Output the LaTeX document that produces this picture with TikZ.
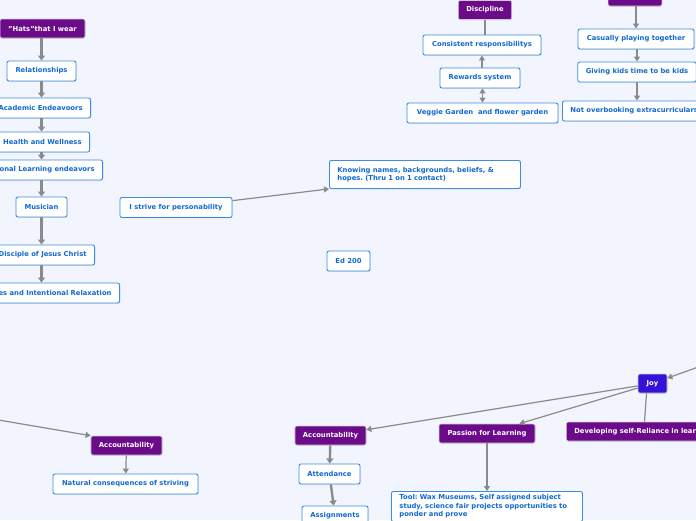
\documentclass[tikz,border=0pt]{standalone}
\usepackage{fontspec}
\setmainfont{DejaVu Sans}
\usepackage{xcolor}
\usepackage{tikz}
\usetikzlibrary{arrows.meta, shadows}
\frenchspacing

\definecolor{mapbg}{HTML}{F2F5FE}
\definecolor{topicpurple}{HTML}{6C0B8A}
\definecolor{joyblue}{HTML}{3512D8}
\definecolor{boxline}{HTML}{3B8CE4}
\definecolor{boxtext}{HTML}{1169D2}
\definecolor{linkgray}{HTML}{8A8A8A}

\begin{document}
\begin{tikzpicture}[
    x=1pt, y=-1pt,
    topic/.style={rectangle, rounded corners=2pt, fill=topicpurple, draw=white!80!black, line width=0.6pt, text=white, minimum height=19pt, inner xsep=8pt, font=\fontsize{6.8}{8.5}\selectfont\bfseries, drop shadow={opacity=0.2, shadow xshift=0.5pt, shadow yshift=-0.8pt}},
    idea/.style={rectangle, rounded corners=2pt, fill=white, draw=boxline, line width=0.9pt, text=boxtext, minimum height=20pt, inner xsep=8pt, font=\fontsize{6.8}{8.5}\selectfont\bfseries, drop shadow={opacity=0.2, shadow xshift=0.5pt, shadow yshift=-0.8pt}},
    link/.style={draw=linkgray, line width=1.2pt, -{Triangle[length=5pt, width=6pt]}},
    plainlink/.style={draw=linkgray, line width=1.2pt},
    spine/.style={draw=linkgray, line width=2.4pt, -{Triangle[length=5pt, width=7pt]}}
]
    \useasboundingbox (0,0) rectangle (696,520);
    \clip (0,0) rectangle (696,520);
    \fill[mapbg] (0,0) rectangle (696,520);

    % Left column: hats
    \coordinate (col) at (41.5,0);
    \node[topic, minimum width=85pt] (hats) at (42.5,28.5) {"Hats"that I wear};
    \node[idea, minimum width=69pt] (rel) at (41.5,71) {Relationships};
    \node[idea, anchor=east] (acad) at (91,108) {Academic Endeavoors};
    \node[idea, anchor=east] (health) at (90,142) {Health and Wellness};
    \node[idea, anchor=east] (proflearn) at (103,170) {Professional Learning endeavors};
    \node[idea, minimum width=51pt] (musician) at (41.5,207) {Musician};
    \node[idea, anchor=east] (disciple) at (95,255) {Disciple of Jesus Christ};
    \node[idea, anchor=east] (hobbies) at (120,293) {Hobbies and Intentional Relaxation};

    % Middle
    \node[idea, minimum width=112pt] (person) at (176,207.5) {I strive for personability};
    \node[idea, anchor=north west, text width=175pt, minimum height=28pt, align=left] (knowing) at (329,160) {Knowing names, backgrounds, beliefs, \&\\hopes. (Thru 1 on 1 contact)};
    \node[idea, minimum width=43pt] (ed) at (348.5,261) {Ed 200};

    % Top right: discipline
    \node[topic, minimum width=52pt] (discipline) at (485,10) {Discipline};
    \node[idea, minimum width=118pt] (consist) at (482,45) {Consistent responsibilitys};
    \node[idea, minimum width=80pt] (rewards) at (480,78) {Rewards system};
    \node[idea, minimum width=151pt] (veggie) at (482.5,113) {Veggie Garden~ and flower garden};

    % Top right: simplicity
    \node[topic, minimum width=44pt] (simplicity) at (635,-3.5) {Simplicity};
    \node[idea, minimum width=116pt] (casual) at (636,39) {Casually playing together};
    \node[idea, minimum width=118pt] (giving) at (637,72) {Giving kids time to be kids};
    \node[idea, anchor=west] (overbook) at (562,111) {Not overbooking extracurriculars};

    % Bottom
    \coordinate (offleft) at (-60,410);
    \coordinate (offright) at (740,352);
    \node[topic, minimum width=71pt] (accleft) at (126.5,445.5) {Accountability};
    \node[idea, minimum width=145pt] (natural) at (125.5,484) {Natural consequences of striving};
    \node[topic, fill=joyblue, minimum width=29pt] (joy) at (652.5,383.5) {Joy};
    \node[topic, minimum width=71pt] (accmid) at (330.5,435.5) {Accountability};
    \node[idea, minimum width=61pt] (attend) at (329.5,474) {Attendance};
    \node[idea, minimum width=66pt] (assign) at (335,516) {Assignments};
    \node[topic, minimum width=96pt] (passion) at (487,433.5) {Passion for Learning};
    \node[topic, anchor=west] (selfrel) at (566,431.5) {Developing self-Reliance in learning};
    \node[idea, anchor=north west, text width=175pt, align=left] (tool) at (391,491) {Tool: Wax Museums, Self assigned subject\\study, science fair projects opportunities to\\ponder and prove};

    % Left column arrows
    \draw[spine] (hats.south -| col) -- (rel.north -| col);
    \draw[spine] (rel.south -| col) -- (acad.north -| col);
    \draw[spine] (acad.south -| col) -- (health.north -| col);
    \draw[spine] (health.south -| col) -- (proflearn.north -| col);
    \draw[spine] (proflearn.south -| col) -- (musician.north -| col);
    \draw[spine] (musician.south -| col) -- (disciple.north -| col);
    \draw[spine] (disciple.south -| col) -- (hobbies.north -| col);

    % Middle arrows
    \draw[link] (person) -- (knowing.south west);

    % Discipline arrows
    \draw[plainlink] (discipline) -- (consist.north -| discipline);
    \draw[link] (rewards.north -| consist.south) -- (consist.south);
    \draw[link, {Triangle[length=5pt, width=6pt]}-{Triangle[length=5pt, width=6pt]}] (rewards.south -| veggie.north) -- (veggie.north);

    % Simplicity arrows
    \draw[link] (simplicity.south -| casual.north) -- (casual.north);
    \draw[link] (casual.south -| giving.north) -- (giving.north);
    \draw[link] (giving.south) -- (overbook.north -| giving.south);

    % Joy and accountability arrows
    \draw[link] (offleft) -- (accleft.north west);
    \draw[link] (accleft) -- (natural);
    \draw[link] (offright) -- (joy.20);
    \draw[link] (joy) -- (accmid);
    \draw[link] (joy) -- (passion);
    \draw[plainlink] ([xshift=-6pt]joy.south) -- ([xshift=-8pt]joy.south |- selfrel.north);
    \draw[spine] (accmid) -- (attend);
    \draw[spine] (attend) -- (assign);
    \draw[link, line width=1.5pt] (passion) -- (tool.north -| passion.south);
\end{tikzpicture}
\end{document}
